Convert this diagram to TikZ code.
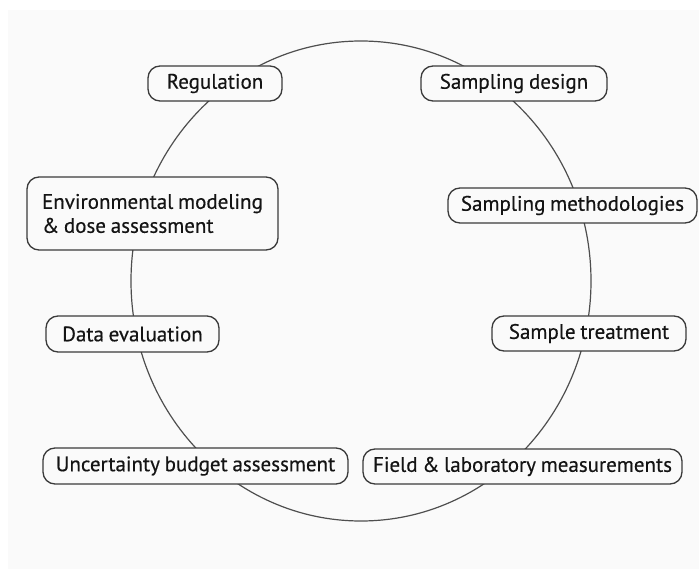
\documentclass[tikz,border=0pt]{standalone}
\usepackage{fontspec}
\setmainfont{PT Sans}[FakeBold=0.4, WordSpace=0.85]
\definecolor{bg}{HTML}{FAFAFA}
\definecolor{ink}{HTML}{3A3A3A}
\begin{document}
\begin{tikzpicture}[x=1pt,y=-1pt,
  stage/.style={draw=ink, line width=1.3pt, rounded corners=12pt, fill=bg,
    inner sep=0pt, font=\fontsize{21}{24}\selectfont, text=black!92},
  ring/.style={draw=ink!90, line width=1.2pt}]
\useasboundingbox (0,0) rectangle (699,569);
\fill[white] (0,0) rectangle (699,569);
\fill[bg] (8,10) rectangle (699,569);
\draw[ring] (361,281) ellipse [x radius=230, y radius=240];
\node[stage, minimum width=134, minimum height=35] (reg) at (215,83.5) {Regulation};
\node[stage, minimum width=186, minimum height=35] (sd) at (514,83.5) {Sampling design};
\node[stage, minimum width=249, minimum height=35] (sm) at (572.5,205.5) {Sampling methodologies};
\node[stage, minimum width=194, minimum height=35] (st) at (589,333.5) {Sample treatment};
\node[stage, minimum width=319, minimum height=35] (flm) at (522.5,466.5) {Field \& laboratory measurements};
\node[stage, minimum width=305, minimum height=36] (uba) at (195.5,466) {Uncertainty budget assessment};
\node[stage, minimum width=173, minimum height=36] (de) at (132.5,334) {Data evaluation};
\node[stage, align=left, minimum width=251, minimum height=73] (env) at (152.5,213.5) {Environmental modeling\\\& dose assessment};
\end{tikzpicture}
\end{document}
